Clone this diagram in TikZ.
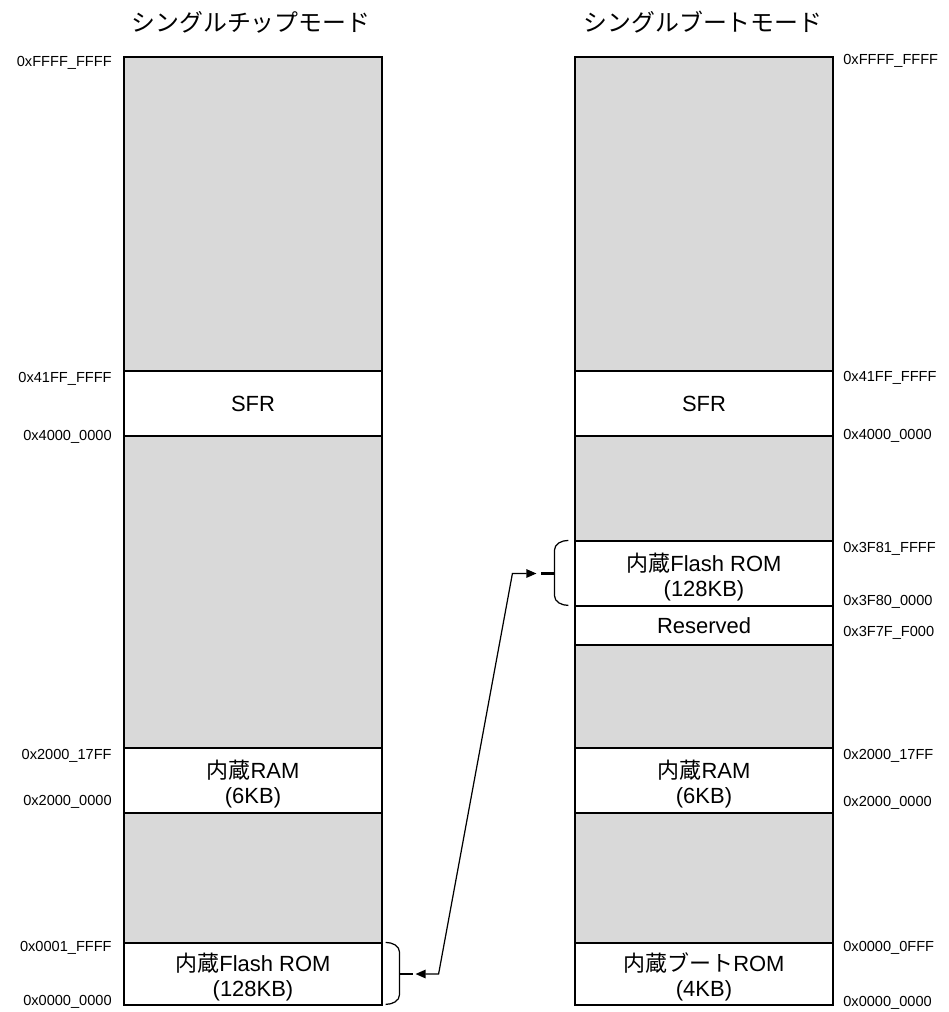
\documentclass[tikz,border=0pt]{standalone}
\usepackage{fontspec}
\setmainfont{Liberation Sans}
\newfontfamily\jp{Noto Sans CJK JP}
\usetikzlibrary{calc,arrows.meta}
\definecolor{memGris}{HTML}{D9D9D9}
\newcommand\tope{\rule{0pt}{14pt}}

\begin{document}
\begin{tikzpicture}[x=0.02cm, y=-0.02cm,
      col/.style={draw, line width=0.7pt, fill=memGris},
      b/.style={draw, line width=0.7pt, fill=white, minimum width=5.16cm,
                minimum height=#1, inner sep=0pt, align=center,
                font=\fontsize{12.5}{14.2}\selectfont},
      b/.default=1.3cm,
      adr/.style={font=\fontsize{8.3}{10}\selectfont, inner sep=0pt},
      ttl/.style={font=\jp\fontsize{13.6}{16}\selectfont},
      brc/.style={line width=0.7pt},
      tick/.style={line width=1.3pt},
      conn/.style={{Triangle[length=0.2cm,width=0.17cm]}-{Triangle[length=0.2cm,width=0.17cm]}, line width=0.7pt}]
    \useasboundingbox (0,0) rectangle (949,1012);
    % titulos
    \node[ttl] (tL) at (251,22) {シングルチップモード};
    \node[ttl] (tR) at (703,22) {シングルブートモード};
    % columnas
    \draw[col] (124,57) rectangle (382,1005);
    \draw[col] (575,57) rectangle (833,1005);
    % シングルチップモード
    \node[b]        (sfrL)   at (253,403.5) {SFR};
    \node[b]        (ramL)   at (253,780.5) {\tope{\jp 内蔵}RAM\\(6KB)};
    \node[b=1.24cm] (flashL) at (253,974)   {\tope{\jp 内蔵}Flash ROM\\(128KB)};
    % シングルブートモード
    \node[b]        (sfrR)   at (704,403.5) {SFR};
    \node[b]        (flashR) at (704,573.5) {\tope{\jp 内蔵}Flash ROM\\(128KB)};
    \node[b=0.78cm] (rsvR)   at (704,625.5) {Reserved};
    \node[b]        (ramR)   at (704,780.5) {\tope{\jp 内蔵}RAM\\(6KB)};
    \node[b=1.24cm] (bootR)  at (704,974)   {\tope{\jp 内蔵ブート}ROM\\(4KB)};
    % direcciones
    \foreach \y/\t [count=\i] in {63/0xFFFF\_FFFF, 379/0x41FF\_FFFF, 437/0x4000\_0000,
        756/0x2000\_17FF, 802/0x2000\_0000, 948/0x0001\_FFFF, 1002/0x0000\_0000}
      \node[adr, anchor=east] (aL\i) at (112,\y) {\t};
    \foreach \y/\t [count=\i] in {61/0xFFFF\_FFFF, 378/0x41FF\_FFFF, 436/0x4000\_0000,
        549/0x3F81\_FFFF, 602/0x3F80\_0000, 633/0x3F7F\_F000,
        756/0x2000\_17FF, 803/0x2000\_0000, 948/0x0000\_0FFF, 1003/0x0000\_0000}
      \node[adr, anchor=west] (aR\i) at (843,\y) {\t};
    % llaves
    \draw[brc] ($(flashL.north east)+(3,0)$) to[out=0,in=90] ++(14,10) -- ++(0,42) to[out=-90,in=0] ++(-14,10);
    \draw[tick] ($(flashL.east)+(16.5,0)$) -- ++(13.5,0);
    \draw[brc] ($(flashR.north west)+(-6,0)$) to[out=180,in=90] ++(-14,10) -- ++(0,45) to[out=-90,in=180] ++(14,10);
    \draw[tick] ($(flashR.west)+(-19.5,0)$) -- ++(-13.5,0);
    \coordinate (endL) at ($(flashL.east)+(33,0)$);
    \coordinate (endR) at ($(flashR.west)+(-38,0)$);
    \draw[conn] (endL) -- ++(23,0) -- ($(endR)+(-24,0)$) -- (endR);
  \end{tikzpicture}
\end{document}
